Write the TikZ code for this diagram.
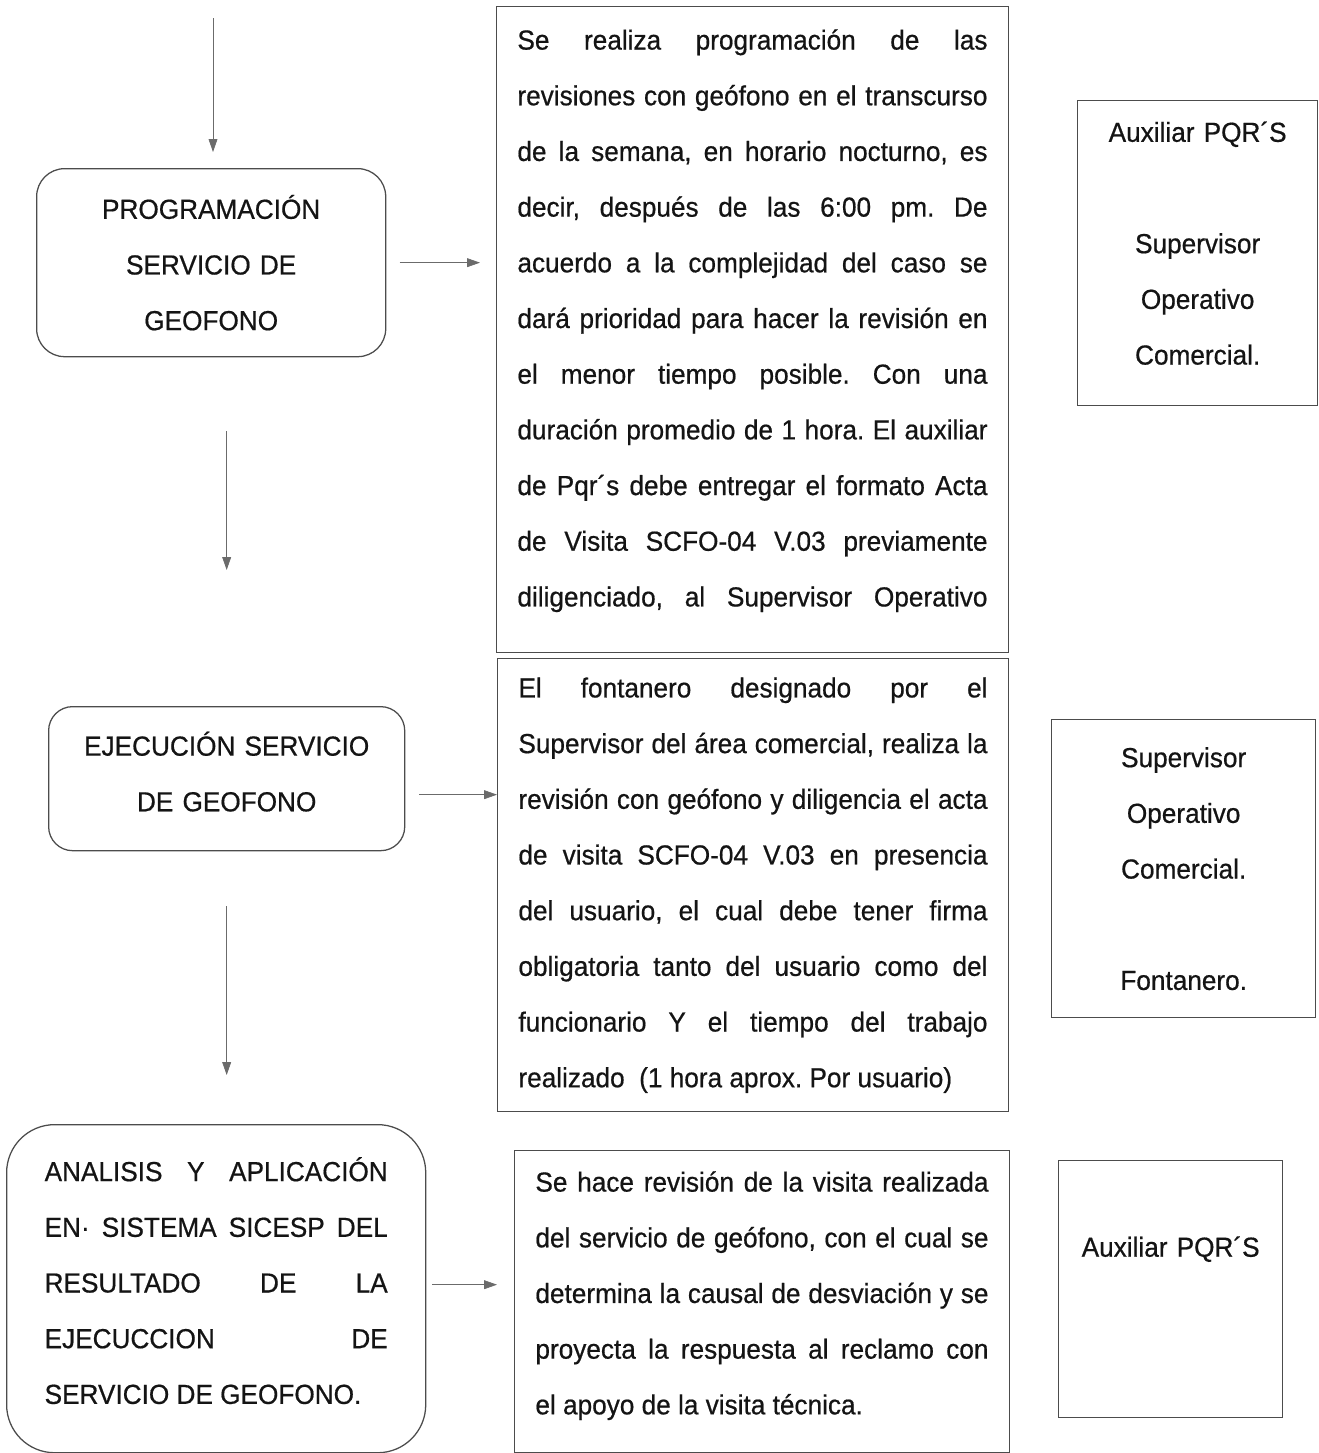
\documentclass[tikz,border=0pt]{standalone}
\usepackage{fontspec}
\setmainfont[FakeStretch=0.95, FakeBold=0.6]{Liberation Sans}
\usepackage{xcolor}
\usepackage{tikz}
\usetikzlibrary{arrows.meta, positioning}

\definecolor{inkgray}{gray}{0.08}
\definecolor{boxgray}{gray}{0.3}
\definecolor{arrowgray}{gray}{0.42}
\frenchspacing
% justified line / last line of a paragraph
\newcommand{\jline}[1]{{\parfillskip=0pt #1\par}}
\newcommand{\lline}[1]{{\parfillskip=0pt plus 1fil #1\par}}

\begin{document}
\begin{tikzpicture}[
    x=0.025cm, y=-0.025cm,
    every node/.style={text=inkgray, font=\fontsize{19.6}{39.6}\selectfont},
    stage/.style={draw=boxgray, line width=0.9pt, rounded corners=0.7cm, align=center, inner xsep=0pt, anchor=north west},
    textbox/.style={draw=boxgray, line width=0.9pt, align=justify, inner xsep=0.52cm, anchor=north west},
    rolebox/.style={draw=boxgray, line width=0.9pt, align=center, inner xsep=0pt, anchor=north west},
    arrow/.style={draw=arrowgray, line width=0.5pt, -{Triangle[length=0.32cm, width=0.22cm]}, arrowgray}
]
    \useasboundingbox (0,0) rectangle (1318,1453);

    % Stages
    \node[stage, text width=8.725cm, minimum height=4.7cm] (prog) at (36,168)
        {PROGRAMACIÓN\\SERVICIO DE\\GEOFONO};
    \node[stage, rounded corners=0.6cm, text width=8.9cm, minimum height=3.6cm] (ejec) at (48,706)
        {EJECUCIÓN SERVICIO\\DE GEOFONO\par\kern0.35cm};
    \node[stage, rounded corners=1.2cm, align=justify, text width=8.575cm, inner xsep=0.95cm,
        minimum height=8.2cm] (anal) at (6,1124)
        {\jline{ANALISIS Y APLICACIÓN}
         \jline{EN· SISTEMA SICESP DEL}
         \jline{RESULTADO DE LA}
         \jline{EJECUCCION DE}
         \lline{SERVICIO DE GEOFONO.}\kern0.4cm};

    % Descriptions
    \node[textbox, text width=11.75cm, minimum height=16.15cm] (txtA) at (496,6)
        {\jline{Se realiza programación de las}
         \jline{revisiones con geófono en el transcurso}
         \jline{de la semana, en horario nocturno, es}
         \jline{decir, después de las 6:00 pm. De}
         \jline{acuerdo a la complejidad del caso se}
         \jline{dará prioridad para hacer la revisión en}
         \jline{el menor tiempo posible. Con una}
         \jline{duración promedio de 1 hora. El auxiliar}
         \jline{de Pqr´s debe entregar el formato Acta}
         \jline{de Visita SCFO-04 V.03 previamente}
         \jline{diligenciado, al Supervisor Operativo}\kern0.45cm};
    \node[textbox, text width=11.725cm, minimum height=11.325cm] (txtB) at (497,658)
        {\jline{El fontanero designado por el}
         \jline{Supervisor del área comercial, realiza la}
         \jline{revisión con geófono y diligencia el acta}
         \jline{de visita SCFO-04 V.03 en presencia}
         \jline{del usuario, el cual debe tener firma}
         \jline{obligatoria tanto del usuario como del}
         \jline{funcionario Y el tiempo del trabajo}
         \lline{realizado \ (1 hora aprox. Por usuario)}};
    \node[textbox, text width=11.325cm, minimum height=7.55cm] (txtC) at (514,1150)
        {\jline{Se hace revisión de la visita realizada}
         \jline{del servicio de geófono, con el cual se}
         \jline{determina la causal de desviación y se}
         \jline{proyecta la respuesta al reclamo con}
         \lline{el apoyo de la visita técnica.}\kern0.3cm};

    % Responsibles
    \node[rolebox, text width=6cm, minimum height=7.625cm] (roleA) at (1077,100)
        {Auxiliar PQR´S\\ \mbox{}\\Supervisor\\Operativo\\Comercial.\par\kern0.5cm};
    \node[rolebox, text width=6.6cm, minimum height=7.45cm] (roleB) at (1051,719)
        {Supervisor\\Operativo\\Comercial.\\ \mbox{}\\Fontanero.};
    \node[rolebox, text width=5.6cm, minimum height=6.425cm] (roleC) at (1058,1160)
        {Auxiliar PQR´S\par\kern2cm};

    % Connections
    \coordinate (entry) at (213,18);
    \draw[arrow, shorten >=0.4cm] (entry) -- (entry |- prog.north);
    \draw[arrow, shorten <=0.33cm, shorten >=0.4cm] (prog.east) -- (prog.east -| txtA.west);
    \draw[arrow, shorten <=1.85cm, shorten >=3.4cm] (prog.south -| ejec.north) -- (ejec.north);
    \draw[arrow, shorten <=0.35cm] ([yshift=-0.4cm]ejec.east) -- ([yshift=-0.4cm]ejec.east -| txtB.west);
    \draw[arrow, shorten <=1.375cm, shorten >=1.225cm] (ejec.south) -- (ejec.south |- anal.north);
    \draw[arrow, shorten <=0.15cm, shorten >=0.425cm] ([yshift=0.1cm]anal.east) -- ([yshift=0.1cm]anal.east -| txtC.west);
\end{tikzpicture}
\end{document}
